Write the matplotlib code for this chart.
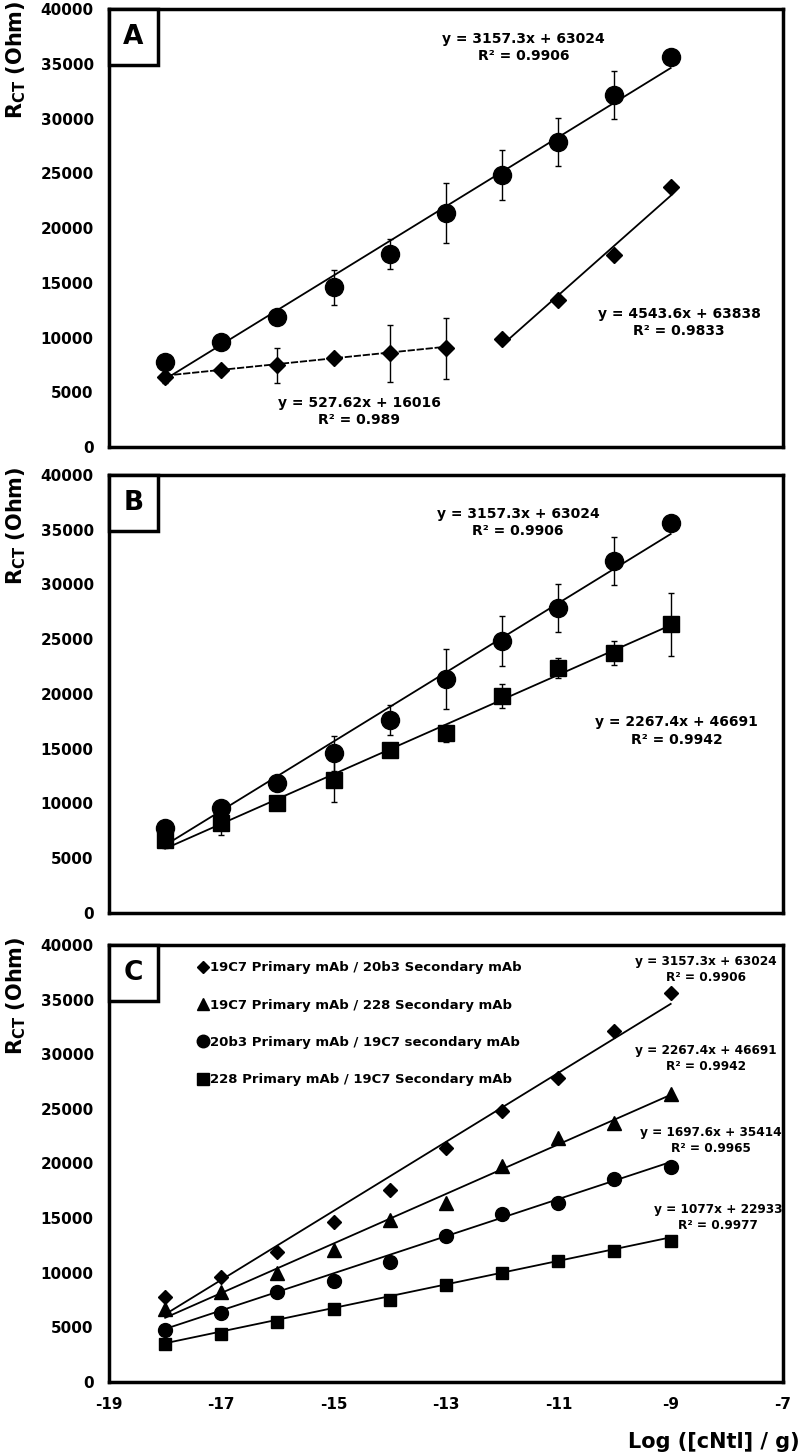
import matplotlib
matplotlib.use("Agg")
import matplotlib.pyplot as plt
from matplotlib.patches import Rectangle
from matplotlib.lines import Line2D
import numpy as np

plt.rcParams['font.family'] = ['DejaVu Sans']
plt.rcParams['font.weight'] = 'bold'
plt.rcParams['mathtext.default'] = 'bf'
plt.rcParams['axes.unicode_minus'] = False

# -----------------------------
# Data
# -----------------------------
log_conc = [-18, -17, -16, -15, -14, -13, -12, -11, -10, -9]

# 19C7 primary / 20b3 secondary (circles in A and B, diamonds in C)
rct_19c7_20b3 = [7800, 9600, 11900, 14600, 17600, 21400, 24850, 27850, 32150, 35600]
err_19c7_20b3 = [0, 0, 0, 1600, 1350, 2750, 2250, 2200, 2200, 0]

# 19C7 primary / 228 secondary (squares in B, triangles in C)
rct_19c7_228 = [6650, 8250, 10000, 12100, 14850, 16400, 19800, 22350, 23750, 26350]
err_19c7_228 = [700, 1100, 0, 2000, 0, 800, 1100, 900, 1100, 2900]

# 20b3 primary / 19C7 secondary (circles in C)
rct_20b3_19c7 = [4800, 6350, 8250, 9200, 11000, 13400, 15400, 16400, 18600, 19700]

# 228 primary / 19C7 secondary (squares in C)
rct_228_19c7 = [3450, 4350, 5450, 6650, 7550, 8900, 10000, 11100, 11950, 12900]

# panel A diamonds: two linear regimes
log_conc_low = [-18, -17, -16, -15, -14, -13]
rct_low = [6350, 7000, 7450, 8150, 8550, 9000]
err_low = [500, 0, 1600, 0, 2600, 2800]
log_conc_high = [-12, -11, -10, -9]
rct_high = [9900, 13400, 17550, 23700]

# trend line coefficients (slope, intercept, R²) as printed
fit_19c7_20b3 = (3157.3, 63024, 0.9906)
fit_19c7_228 = (2267.4, 46691, 0.9942)
fit_20b3_19c7 = (1697.6, 35414, 0.9965)
fit_228_19c7 = (1077, 22933, 0.9977)
fit_low = (527.62, 16016, 0.989)
fit_high = (4543.6, 63838, 0.9833)

legend_labels = [
    "19C7 Primary mAb / 20b3 Secondary mAb",
    "19C7 Primary mAb / 228 Secondary mAb",
    "20b3 Primary mAb / 19C7 secondary mAb",
    "228 Primary mAb / 19C7 Secondary mAb",
]


def trend(ax, xs, fit, ls='-'):
    xs = np.array([min(xs), max(xs)], dtype=float)
    ax.plot(xs, fit[0] * xs + fit[1], color='black', lw=1.3, ls=ls, zorder=2)


def eq_text(ax, x, y, fit, size=10):
    ax.text(x, y, f"y = {fit[0]:g}x + {fit[1]:g}\nR\u00b2 = {fit[2]:g}",
            ha='center', va='center', multialignment='center',
            fontsize=size, fontweight='bold', linespacing=1.3, zorder=5)


def points(ax, xs, ys, marker, ms, err=None):
    if err is not None:
        ax.errorbar(xs, ys, yerr=err, fmt='none', ecolor='black',
                    elinewidth=1, capsize=2.2, capthick=1, zorder=3)
    ax.plot(xs, ys, linestyle='none', marker=marker, color='black',
            markersize=ms, zorder=4)


def style(ax, letter, show_x=False):
    ax.set_xlim(-19, -7)
    ax.set_ylim(0, 40000)
    ax.set_yticks(range(0, 40001, 5000))
    ax.tick_params(axis='y', length=0, pad=11, labelsize=11)
    for s in ax.spines.values():
        s.set_linewidth(2.5)
    if show_x:
        ax.set_xticks(range(-19, -6, 2))
        ax.tick_params(axis='x', length=0, pad=11, labelsize=11)
    else:
        ax.set_xticks([])
    ax.set_ylabel(r'R$_{CT}$ (Ohm)', fontsize=15, fontweight='bold', loc='top')
    ax.yaxis.set_label_coords(-0.12, 1.02)
    w, h = 0.0727, 0.128
    ax.add_patch(Rectangle((0, 1 - h), w, h, transform=ax.transAxes,
                           facecolor='white', edgecolor='black', lw=2.5,
                           zorder=6, clip_on=False))
    ax.text(w / 2, 1 - h / 2, letter, transform=ax.transAxes, ha='center',
            va='center', fontsize=19, fontweight='bold', zorder=7)


fig = plt.figure(figsize=(8, 14.54), dpi=100)
ax_a = fig.add_axes([0.13625, 0.69257, 0.8425, 0.30124])
ax_b = fig.add_axes([0.13625, 0.37208, 0.8425, 0.30124])
ax_c = fig.add_axes([0.13625, 0.04952, 0.8425, 0.30055])

# ========== PANEL A ==========
trend(ax_a, log_conc, fit_19c7_20b3)
trend(ax_a, log_conc_low, fit_low, ls=(0, (4, 1)))
trend(ax_a, log_conc_high, fit_high)
points(ax_a, log_conc, rct_19c7_20b3, 'o', 13, err_19c7_20b3)
points(ax_a, log_conc_low, rct_low, 'D', 8.5, err_low)
points(ax_a, log_conc_high, rct_high, 'D', 8.5)
eq_text(ax_a, -11.62, 36480, fit_19c7_20b3)
eq_text(ax_a, -14.55, 3240, fit_low)
eq_text(ax_a, -8.85, 11370, fit_high)
style(ax_a, 'A')

# ========== PANEL B ==========
trend(ax_b, log_conc, fit_19c7_20b3)
trend(ax_b, log_conc, fit_19c7_228)
points(ax_b, log_conc, rct_19c7_20b3, 'o', 13, err_19c7_20b3)
points(ax_b, log_conc, rct_19c7_228, 's', 11.5, err_19c7_228)
eq_text(ax_b, -11.72, 35690, fit_19c7_20b3)
eq_text(ax_b, -8.89, 16620, fit_19c7_228)
style(ax_b, 'B')

# ========== PANEL C ==========
trend(ax_c, log_conc, fit_19c7_20b3)
trend(ax_c, log_conc, fit_19c7_228)
trend(ax_c, log_conc, fit_20b3_19c7)
trend(ax_c, log_conc, fit_228_19c7)
points(ax_c, log_conc, rct_19c7_20b3, 'D', 7)
points(ax_c, log_conc, rct_19c7_228, '^', 9.5)
points(ax_c, log_conc, rct_20b3_19c7, 'o', 10)
points(ax_c, log_conc, rct_228_19c7, 's', 8.5)
eq_text(ax_c, -8.37, 37800, fit_19c7_20b3, size=8.7)
eq_text(ax_c, -8.37, 29650, fit_19c7_228, size=8.7)
eq_text(ax_c, -8.28, 22150, fit_20b3_19c7, size=8.7)
eq_text(ax_c, -8.16, 15100, fit_228_19c7, size=8.7)
style(ax_c, 'C', show_x=True)

handles = [Line2D([], [], ls='none', marker=m, color='black', markersize=s)
           for m, s in [('D', 6), ('^', 8.5), ('o', 9), ('s', 8)]]
ax_c.legend(handles, legend_labels, loc='upper left', bbox_to_anchor=(0.131, 0.963),
            frameon=False, fontsize=9.5, handlelength=0.8, handletextpad=0.2,
            labelspacing=1.85, borderpad=0, borderaxespad=0)

ax_c.set_xlabel('Log ([cNtl] / g)', fontsize=15, fontweight='bold', loc='right')
ax_c.xaxis.set_label_coords(1.025, -0.115)

fig.savefig("out.png", dpi=100)
plt.close(fig)
